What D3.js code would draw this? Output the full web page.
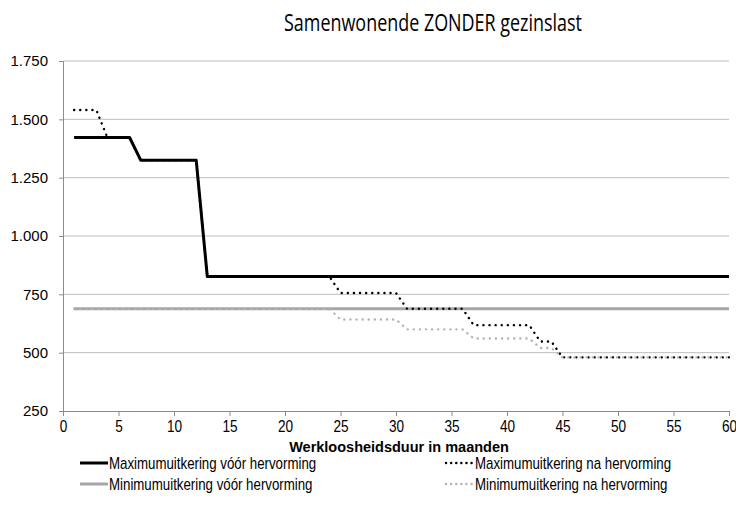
<!DOCTYPE html>
<html>
<head>
<meta charset="utf-8">
<script src="https://cdn.jsdelivr.net/npm/d3@7/dist/d3.min.js"></script>
<style>
  body { margin: 0; background: #fff; }
  text { font-family: "Liberation Sans", Arial, sans-serif; }
</style>
</head>
<body>
<div id="chart"></div>
<script>
// months 1..60
var months = d3.range(1, 61);

// value per month
var maxVoor = months.map(function (m) { return m <= 6 ? 1422 : m <= 12 ? 1325 : 826; });
var maxNa = months.map(function (m) {
    if (m <= 3) return 1540;
    if (m <= 6) return 1422;
    if (m <= 12) return 1325;
    if (m <= 24) return 826;
    if (m <= 30) return 756;
    if (m <= 36) return 688;
    if (m <= 42) return 618;
    if (m <= 44) return 548;
    return 480;
});
var minVoor = months.map(function () { return 688; });
var minNa = months.map(function (m) {
    if (m <= 24) return 688;
    if (m <= 30) return 642;
    if (m <= 36) return 600;
    if (m <= 42) return 561;
    if (m <= 44) return 520;
    return 480;
});

var yTicks = [250, 500, 750, 1000, 1250, 1500, 1750];
var xTicks = d3.range(0, 61, 5);

var seriesNames = ["Maximumuitkering vóór hervorming", "Minimumuitkering vóór hervorming",
                   "Maximumuitkering na hervorming", "Minimumuitkering na hervorming"];

var W = 736, H = 512,
    margin = {top: 61, right: 7, bottom: 101, left: 63},
    width = W - margin.left - margin.right,
    height = H - margin.top - margin.bottom;

var x = d3.scaleLinear().domain([0, 60]).range([0, width]),
    y = d3.scaleLinear().domain([250, 1750]).range([height, 0]);

var svg = d3.select("#chart").append("svg")
    .attr("width", W)
    .attr("height", H);

svg.append("text")
    .attr("transform", "translate(433,31) scale(0.78,1)")
    .attr("text-anchor", "middle")
    .style("font-family", "'Open Sans', sans-serif")
    .style("font-size", "23px")
    .text("Samenwonende ZONDER gezinslast");

var g = svg.append("g")
    .attr("transform", "translate(" + margin.left + "," + margin.top + ")");

// gridlines
g.append("g").selectAll("line")
    .data(yTicks.slice(1))
    .enter().append("line")
    .attr("x1", 0).attr("x2", width)
    .attr("y1", function (d) { return y(d); })
    .attr("y2", function (d) { return y(d); })
    .attr("stroke", "#bdbdbd").attr("stroke-width", 1);

var yAxis = g.append("g")
    .call(d3.axisLeft(y).tickValues(yTicks).tickSize(4).tickPadding(11)
        .tickFormat(function (d) { return d3.format(",")(d).replace(",", "."); }));
var xAxis = g.append("g")
    .attr("transform", "translate(0," + height + ")")
    .call(d3.axisBottom(x).tickValues(xTicks).tickSize(5).tickPadding(4));

[yAxis, xAxis].forEach(function (a) {
    a.select(".domain").attr("stroke", "#8c8c8c");
    a.selectAll(".tick line").attr("stroke", "#8c8c8c");
    a.selectAll(".tick text").attr("fill", "#000");
});
yAxis.selectAll(".tick text").style("font-size", "15px");
xAxis.selectAll(".tick text")
    .attr("transform", "scale(0.8,1)")
    .style("font-size", "17px");

g.append("text")
    .attr("x", width / 2 + 3).attr("y", height + 41)
    .attr("text-anchor", "middle")
    .style("font-size", "14.5px").style("font-weight", "bold")
    .text("Werkloosheidsduur  in maanden");

var line = d3.line()
    .x(function (d, i) { return x(months[i]); })
    .y(function (d) { return y(d); });

var styles = [
    {data: maxVoor, color: "#000", w: 3, dash: null},
    {data: minVoor, color: "#a6a6a6", w: 3, dash: null},
    {data: maxNa, color: "#000", w: 2.4, dash: "0.1,6"},
    {data: minNa, color: "#b3b3b3", w: 2.4, dash: "0.1,6"}
];

styles.forEach(function (s) {
    g.append("path")
        .datum(s.data)
        .attr("fill", "none")
        .attr("stroke", s.color)
        .attr("stroke-width", s.w)
        .attr("stroke-linecap", s.dash ? "round" : "butt")
        .attr("stroke-linejoin", "round")
        .attr("stroke-dasharray", s.dash)
        .attr("d", line);
});

// legend: two columns
var legendPos = [[80, 463], [80, 484], [446, 463], [446, 484]];
var legend = svg.append("g").selectAll("g")
    .data(styles)
    .enter().append("g")
    .attr("transform", function (d, i) { return "translate(" + legendPos[i][0] + "," + legendPos[i][1] + ")"; });

legend.append("line")
    .attr("x1", 0).attr("x2", 28)
    .attr("stroke", function (d) { return d.color; })
    .attr("stroke-width", function (d) { return d.w; })
    .attr("stroke-linecap", function (d) { return d.dash ? "round" : "butt"; })
    .attr("stroke-dasharray", function (d) { return d.dash ? "0.1,5" : null; });

legend.append("text")
    .attr("transform", "translate(29,5.5) scale(0.83,1)")
    .style("font-size", "16px")
    .text(function (d, i) { return seriesNames[i]; });
</script>
</body>
</html>
